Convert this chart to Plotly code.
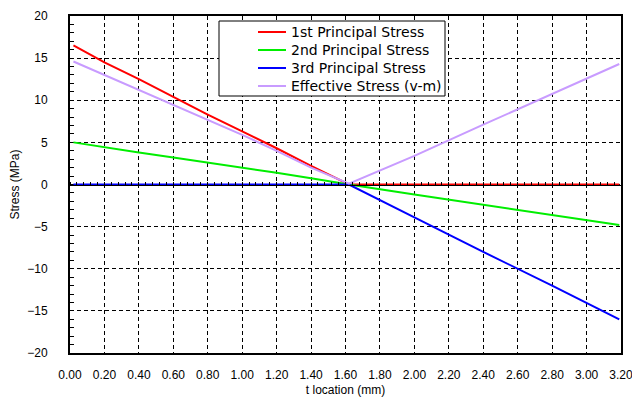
import plotly.graph_objects as go

t = [0.02, 0.2, 0.4, 0.6, 0.8, 1.0, 1.2, 1.4, 1.62, 2.0, 2.4, 2.8, 3.19]
s1 = [16.5, 14.5, 12.5, 10.4, 8.3, 6.3, 4.3, 2.2, 0.0, 0.0, 0.0, 0.0, 0.0]
s2 = [5.0, 4.4, 3.8, 3.2, 2.6, 2.05, 1.4, 0.75, 0.0, -1.2, -2.4, -3.6, -4.8]
s3 = [0.0, 0.0, 0.0, 0.0, 0.0, 0.0, 0.0, 0.0, 0.0, -3.9, -8.0, -12.0, -16.0]
sv = [14.6, 13.0, 11.2, 9.4, 7.6, 5.9, 4.0, 2.0, 0.1, 3.4, 7.1, 10.7, 14.3]
names = ["1st Principal Stress", "2nd Principal Stress", "3rd Principal Stress", "Effective Stress (v-m)"]
colors = ["#ff0000", "#00ee00", "#0000ff", "#c89bff"]

FONT = "Liberation Sans"
fig = go.Figure()
for y, n, c in zip([s1, s2, s3, sv], names, colors):
    fig.add_trace(go.Scatter(x=t, y=y, mode="lines", name=n, line=dict(color=c, width=2), showlegend=False))

# zero axis with small ticks
fig.add_trace(go.Scatter(x=[0], y=[0], xaxis="x2", mode="markers", marker=dict(opacity=0), showlegend=False, hoverinfo="skip"))

# plot area in window pixels: x 70..621, y 16..353
def px(x):
    return (x - 70) / 551

def py(y):
    return (353 - y) / 337

# legend drawn by hand: box, line samples, labels
shapes = [dict(type="rect", xref="paper", yref="paper",
               x0=px(219), x1=px(445), y0=py(96), y1=py(21),
               fillcolor="white", line=dict(color="black", width=1), layer="above")]
annotations = []
for i, (n, c) in enumerate(zip(names, colors)):
    yy = 32 + 18 * i
    shapes.append(dict(type="line", xref="paper", yref="paper",
                       x0=px(258), x1=px(286), y0=py(yy), y1=py(yy),
                       line=dict(color=c, width=2), layer="above"))
    annotations.append(dict(xref="paper", yref="paper", x=px(289), y=py(yy),
                            text=n, showarrow=False, xanchor="left", yanchor="middle",
                            font=dict(size=14, family="DejaVu Sans", color="black")))

# page body has an 8px margin, so the figure is offset by (8, 8)
OFF = 8
grid = dict(showgrid=True, gridcolor="black", griddash="4px,3px", gridwidth=1)
fig.update_layout(
    width=640 - OFF, height=407 - OFF,
    margin=dict(l=70 - OFF, r=19, t=16 - OFF, b=54, autoexpand=False),
    paper_bgcolor="white", plot_bgcolor="white", showlegend=False,
    font=dict(family=FONT, size=12, color="black"),
    xaxis=dict(range=[0, 3.2], dtick=0.2, tick0=0, tickformat=".2f", **grid,
               showline=True, linecolor="black", linewidth=2, mirror=True, automargin=False,
               ticks="", zeroline=False, ticklabelstandoff=10,
               title=dict(text="t location (mm)", font=dict(size=12), standoff=4)),
    xaxis2=dict(range=[0, 3.2], overlaying="x", anchor="free", position=0.5, side="top",
                showline=True, linecolor="black", linewidth=1, showgrid=False, automargin=False,
                showticklabels=False, ticks="outside", ticklen=3, dtick=0.2, tick0=0,
                minor=dict(ticks="outside", ticklen=3, dtick=0.04, showgrid=False, tickcolor="black"),
                tickcolor="black", zeroline=False),
    yaxis=dict(range=[-20, 20], dtick=5, **grid, automargin=False,
               showline=True, linecolor="black", linewidth=2, mirror=True,
               ticks="", zeroline=False, ticklabelstandoff=18,
               minor=dict(ticks="inside", ticklen=4, dtick=1, showgrid=False, tickcolor="black"),
               title=dict(text="Stress (MPa)", font=dict(size=12), standoff=6)),
    shapes=shapes,
    annotations=annotations,
)
fig.write_html("out.html")
